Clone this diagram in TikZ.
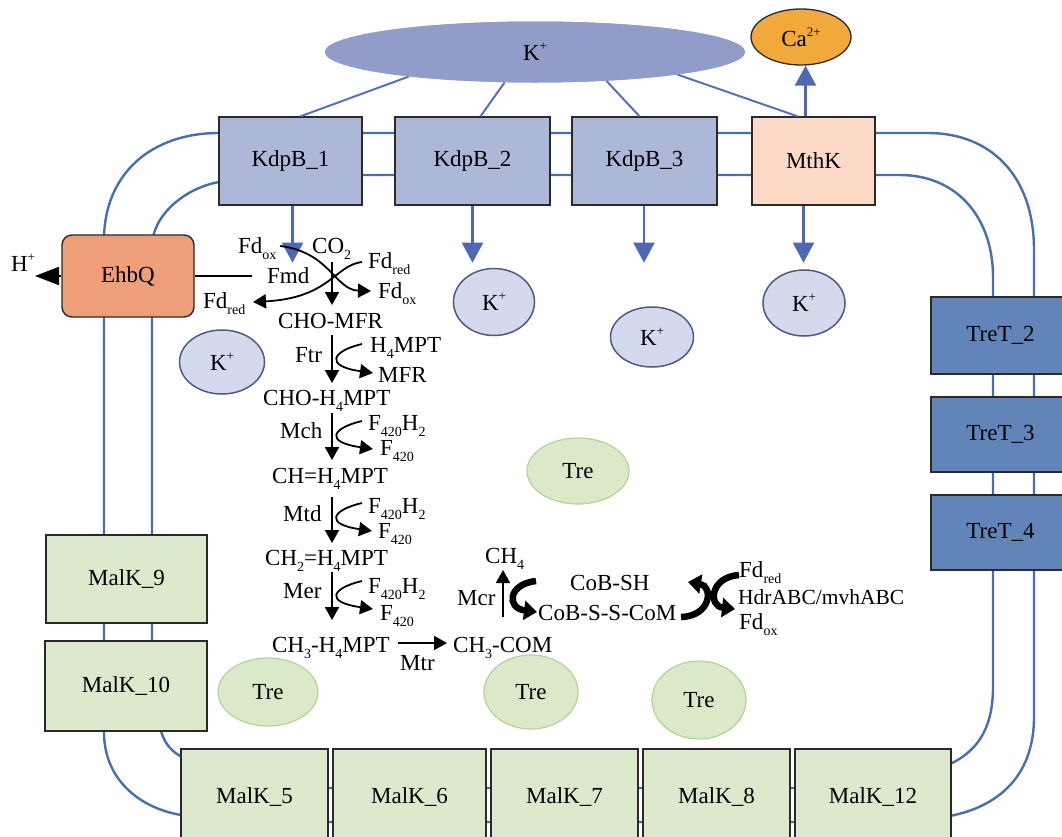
\documentclass[tikz,border=0pt]{standalone}
\usepackage{fontspec}
\setmainfont{Liberation Serif}
\usetikzlibrary{arrows.meta,shapes.geometric,calc}
\definecolor{memb}{HTML}{4A6DAB}
\definecolor{klinec}{HTML}{5872B0}
\definecolor{barrowc}{HTML}{5068B4}
\definecolor{kbigc}{HTML}{8F9DC8}
\definecolor{kdpc}{HTML}{ADB7D8}
\definecolor{mthkc}{HTML}{FCDAC7}
\definecolor{cac}{HTML}{F2A93B}
\definecolor{ehbqc}{HTML}{EE9E79}
\definecolor{tretc}{HTML}{6185B9}
\definecolor{malkc}{HTML}{DDE9CD}
\definecolor{trefill}{HTML}{DAEAC8}
\definecolor{treline}{HTML}{B7D09C}
\definecolor{klight}{HTML}{D4D9EE}
\definecolor{kdark}{HTML}{4D5A82}
\definecolor{boxline}{HTML}{2A2A2A}
\newcommand{\sbs}[1]{\raisebox{-0.27em}{\fontsize{14}{14}\selectfont #1}}
\newcommand{\sps}[1]{\raisebox{0.42em}{\fontsize{13}{13}\selectfont #1}}
\tikzset{
  pbox/.style={draw=boxline,line width=1.4pt,inner sep=0pt,rectangle},
  kbox/.style={pbox,fill=kdpc},
  mbox/.style={pbox,fill=malkc},
  tbox/.style={pbox,fill=tretc},
  kion/.style={ellipse,draw=kdark,fill=klight,line width=1.5pt,inner sep=0pt},
  treion/.style={ellipse,draw=treline,fill=trefill,line width=1.2pt,inner sep=0pt},
  membline/.style={draw=memb,line width=2.4pt},
  kline/.style={draw=klinec,line width=2pt},
  barrow/.style={draw=barrowc,line width=2.2pt,-{Triangle[length=20pt,width=21pt]},fill=barrowc},
  parrow/.style={draw=black,line width=1.8pt,-{Triangle[length=13pt,width=14pt]}},
  thick arrow/.style={draw=black,line width=6.5pt,-{Triangle[length=13pt,width=19pt]}},
  lbl/.style={anchor=base west,inner sep=0pt},
}
\begin{document}
\begin{tikzpicture}[x=1pt,y=-1pt,font=\fontsize{23}{27}\selectfont]
\useasboundingbox (0,0) rectangle (1062,836);
\clip (0,0) rectangle (1062,836);

% membrane lines
\draw[membline] (875,133) -- (928,133) .. controls (990,133) and (1034,175) .. (1034,250)
  -- (1034,717) .. controls (1034,770) and (1005,805) .. (950,816) -- (940,822) -- (190,822)
  -- (181,815) .. controls (140,808) and (104,780) .. (104,732) -- (104,240)
  .. controls (104,175) and (150,133) .. (219,133) -- cycle;
\draw[membline] (219,182) -- (230,175) -- (900,175) .. controls (955,175) and (992,215) .. (993,275)
  -- (993,687) .. controls (993,725) and (980,750) .. (950,764) -- (940,788) -- (190,788)
  -- (182,757) .. controls (172,752) and (162,742) .. (160,725) -- (152,700) -- (152,245)
  .. controls (153,215) and (185,188) .. (219,182);

% nodes: top
\node[ellipse,fill=kbigc,inner sep=0pt,minimum width=420pt,minimum height=61pt] (kbig) at (535,52) {};
\node[ellipse,draw=boxline,line width=1.3pt,fill=cac,inner sep=0pt,minimum width=100pt,minimum height=56pt] (ca) at (801,37) {Ca\sps{2+}};
\node[kbox,minimum width=143pt,minimum height=88pt] (kdp1) at (290.5,161) {KdpB\_1};
\node[kbox,minimum width=155pt,minimum height=88pt] (kdp2) at (472.5,161) {KdpB\_2};
\node[kbox,minimum width=145pt,minimum height=88pt] (kdp3) at (644.5,161) {KdpB\_3};
\node[pbox,fill=mthkc,minimum width=123pt,minimum height=88pt] (mthk) at (813.5,161) {MthK};

\draw[kline] (kbig.191) -- ([xshift=10pt]kdp1.north);
\draw[kline] (kbig.225) -- ([xshift=8pt]kdp2.north);
\draw[kline] (kbig.338) -- ([xshift=-5pt]kdp3.north);
\draw[kline] (kbig.351) -- ([xshift=-16pt]mthk.north);
\node[ellipse,fill=kbigc,inner sep=0pt,minimum width=420pt,minimum height=61pt] at (kbig) {K\sps{+}};

\draw[barrow] ([xshift=-8pt]mthk.north) -- ([xshift=-8pt]mthk.north |- ca.south);
\draw[barrow] ([xshift=2pt]kdp1.south) -- ++(0,57);
\draw[barrow] (kdp2.south) -- ++(0,57);
\draw[barrow] ([xshift=-0.5pt]kdp3.south) -- ++(0,57);
\draw[barrow] ([xshift=-10pt]mthk.south) -- ++(0,57);

% left side
\node[pbox,fill=ehbqc,rounded corners=10pt,minimum width=132pt,minimum height=82pt] (ehbq) at (128,276) {EhbQ};
\node[anchor=center,inner sep=0pt] (hplus) at (23,263) {H\sps{+}};
\coordinate (hend) at (35,276);
\draw[draw=black,line width=1.8pt,-{Triangle[length=24pt,width=18pt]}] (ehbq.west) -- (hend);
\coordinate (fmdline) at (252,276);
\draw[black,line width=1.6pt] (ehbq.east) -- (fmdline);

\node[mbox,minimum width=161pt,minimum height=88pt] (malk9) at (126.5,579) {MalK\_9};
\node[mbox,minimum width=162pt,minimum height=90pt] (malk10) at (126,686) {MalK\_10};
\node[mbox,minimum width=147pt,minimum height=96pt] (malk5) at (254.5,797) {MalK\_5};
\node[mbox,minimum width=153pt,minimum height=96pt] (malk6) at (409.5,797) {MalK\_6};
\node[mbox,minimum width=147pt,minimum height=96pt] (malk7) at (564.5,797) {MalK\_7};
\node[mbox,minimum width=147pt,minimum height=96pt] (malk8) at (716.5,797) {MalK\_8};
\node[mbox,minimum width=156pt,minimum height=96pt] (malk12) at (873,797) {MalK\_12};

\node[tbox,minimum width=139pt,minimum height=77pt] (tret2) at (1000.5,335.5) {TreT\_2};
\node[tbox,minimum width=139pt,minimum height=75pt] (tret3) at (1000.5,434.5) {TreT\_3};
\node[tbox,minimum width=139pt,minimum height=75pt] (tret4) at (1000.5,532.5) {TreT\_4};

% ions
\node[kion,minimum width=81pt,minimum height=67pt] (kc1) at (494,302) {K\sps{+}};
\node[kion,minimum width=83pt,minimum height=60pt] (kc2) at (652,337) {K\sps{+}};
\node[kion,minimum width=82pt,minimum height=66pt] (kc3) at (804,303) {K\sps{+}};
\node[kion,minimum width=85pt,minimum height=64pt] (kc4) at (222,362) {K\sps{+}};

\node[treion,minimum width=102pt,minimum height=66pt] (tre1) at (578,471) {Tre};
\node[treion,minimum width=100pt,minimum height=68pt] (tre2) at (268,692) {Tre};
\node[treion,minimum width=94pt,minimum height=74pt] (tre3) at (531,692) {Tre};
\node[treion,minimum width=94pt,minimum height=78pt] (tre4) at (699,700) {Tre};

% pathway texts
\node[lbl] (fdox1) at (238,253) {Fd\sbs{ox}};
\node[lbl] (co2) at (312,253) {CO\sbs{2}};
\node[lbl] (fdred1) at (368,268) {Fd\sbs{red}};
\node[lbl] (fmd) at (267,283) {Fmd};
\node[lbl] (fdox2) at (378,298) {Fd\sbs{ox}};
\node[lbl] (fdred2) at (203,308) {Fd\sbs{red}};
\node[lbl] (chomfr) at (278,328) {CHO-MFR};
\node[lbl] (ftr) at (295,362) {Ftr};
\node[lbl] (h4mpt) at (370,352) {H\sbs{4}MPT};
\node[lbl] (mfr) at (378,382) {MFR};
\node[lbl] (choh4) at (263,405) {CHO-H\sbs{4}MPT};
\node[lbl] (mch) at (280,438) {Mch};
\node[lbl] (fh1) at (368,430) {F\sbs{420}H\sbs{2}};
\node[lbl] (f1) at (380,455) {F\sbs{420}};
\node[lbl] (chh4) at (272,483) {CH=H\sbs{4}MPT};
\node[lbl] (mtd) at (283,521) {Mtd};
\node[lbl] (fh2) at (368,513) {F\sbs{420}H\sbs{2}};
\node[lbl] (f2) at (378,538) {F\sbs{420}};
\node[lbl] (ch2h4) at (265,565) {CH\sbs{2}=H\sbs{4}MPT};
\node[lbl] (mer) at (283,598) {Mer};
\node[lbl] (fh3) at (368,593) {F\sbs{420}H\sbs{2}};
\node[lbl] (f3) at (380,620) {F\sbs{420}};
\node[lbl] (ch3h4) at (272,652) {CH\sbs{3}-H\sbs{4}MPT};
\node[lbl] (mtr) at (400,670) {Mtr};
\node[lbl] (ch3com) at (453,652) {CH\sbs{3}-COM};
\node[lbl] (ch4) at (485,563) {CH\sbs{4}};
\node[lbl] (mcr) at (457,605) {Mcr};
\node[lbl] (cobsh) at (570,590) {CoB-SH};
\node[lbl] (cobss) at (538,620) {CoB-S-S-CoM};
\node[lbl] (fdred3) at (739,577) {Fd\sbs{red}};
\node[lbl,font=\fontsize{21.5}{25}\selectfont] (hdr) at (738,604) {HdrABC/mvhABC};
\node[lbl] (fdox3) at (739,629) {Fd\sbs{ox}};

% Fmd step
\coordinate (a1s) at (280,246); \coordinate (a1e) at (371,291);
\draw[parrow] (a1s) .. controls (330,252) and (335,290) .. (a1e);
\coordinate (b1s) at (362,262); \coordinate (b1e) at (253,302);
\draw[parrow] (b1s) .. controls (335,265) and (330,298) .. (b1e);
\coordinate (v1s) at (332,262); \coordinate (v1e) at (332,305);
\draw[parrow] (v1s) -- (v1e);
% Ftr
\coordinate (v2s) at (332,335); \coordinate (v2e) at (332,383);
\draw[parrow] (v2s) -- (v2e);
\coordinate (c2s) at (362,344); \coordinate (c2e) at (373,373);
\draw[parrow] (c2s) .. controls (332,351) and (324,366) .. (c2e);
% Mch
\coordinate (v3s) at (332,413); \coordinate (v3e) at (332,460);
\draw[parrow] (v3s) -- (v3e);
\coordinate (c3s) at (362,421); \coordinate (c3e) at (373,449);
\draw[parrow] (c3s) .. controls (332,428) and (324,442) .. (c3e);
% Mtd
\coordinate (v4s) at (332,497); \coordinate (v4e) at (332,543);
\draw[parrow] (v4s) -- (v4e);
\coordinate (c4s) at (362,503); \coordinate (c4e) at (372,531);
\draw[parrow] (c4s) .. controls (332,510) and (324,524) .. (c4e);
% Mer
\coordinate (v5s) at (332,572); \coordinate (v5e) at (332,620);
\draw[parrow] (v5s) -- (v5e);
\coordinate (c5s) at (362,581); \coordinate (c5e) at (373,609);
\draw[parrow] (c5s) .. controls (332,588) and (324,602) .. (c5e);
% Mtr
\coordinate (mts) at (398,643); \coordinate (mte) at (447,643);
\draw[parrow] (mts) -- (mte);
% Mcr
\coordinate (mcs) at (503,617); \coordinate (mce) at (503,570);
\draw[parrow] (mcs) -- (mce);
\coordinate (t1s) at (536,581); \coordinate (t1e) at (537,612);
\draw[thick arrow] (t1s) .. controls (508,584) and (506,608) .. (t1e);
% Hdr
\coordinate (t2s) at (681,617); \coordinate (t2e) at (688,582);
\draw[thick arrow] (t2s) .. controls (712,616) and (713,586) .. (t2e);
\coordinate (t3s) at (739,575); \coordinate (t3e) at (735,609);
\draw[thick arrow] (t3s) .. controls (710,577) and (708,606) .. (t3e);
\end{tikzpicture}
\end{document}
